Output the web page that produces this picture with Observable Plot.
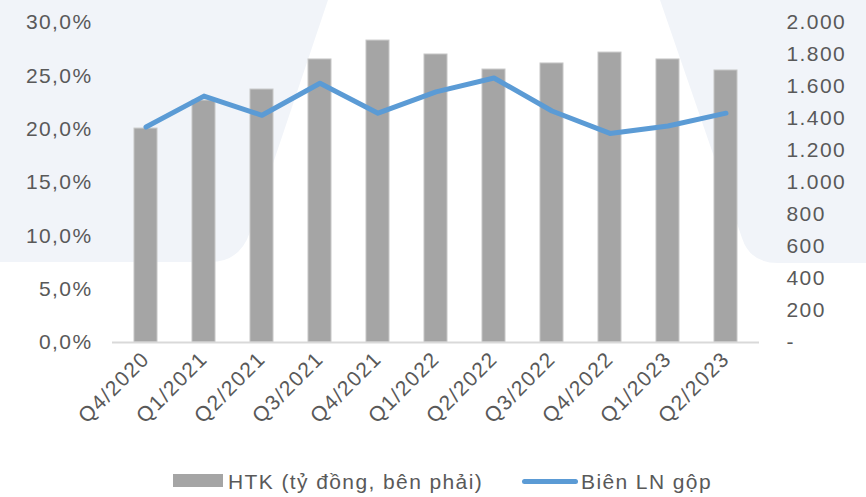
<!DOCTYPE html>
<html>
<head>
<meta charset="utf-8">
<script src="https://cdn.jsdelivr.net/npm/d3@7"></script>
<script src="https://cdn.jsdelivr.net/npm/@observablehq/plot@0.6"></script>
<style>
  html, body { margin: 0; padding: 0; background: #ffffff; }
  #wrap { position: relative; width: 866px; height: 497px; overflow: hidden; font-family: "Liberation Sans", Arial, sans-serif; }
  #bg { position: absolute; left: 0; top: 0; z-index: 0; }
  #chart { position: relative; z-index: 1; }
  #chart svg { display: block; }
  #chart svg text { letter-spacing: 1.4px; }
  #legend { position: relative; z-index: 1; width: 866px; height: 42px; color: #595959; font-size: 21px; letter-spacing: 1.4px; }
  #legend .sw { position: absolute; }
  #legend .lb { position: absolute; top: 26px; transform: translateY(-50%); white-space: nowrap; line-height: 1; }
</style>
</head>
<body>
<div id="wrap">
  <svg id="bg" width="866" height="497" viewBox="0 0 866 497">
    <path d="M0,0 H328 L250,232 Q240,262 210,262 H0 Z" fill="#f1f4f9"/>
    <path d="M660,0 H866 V263 H778 Q750,263 742,238 Z" fill="#f1f4f9"/>
  </svg>
  <div id="chart"></div>
  <div id="legend">
    <div class="sw" style="left:173px; top:19px; width:50px; height:13px; background:#a5a5a5;"></div>
    <div class="lb" style="left:228px;">HTK (tỷ đồng, bên phải)</div>
    <div class="sw" style="left:522px; top:24px; width:56px; height:5px; border-radius:3px; background:#5b9bd5;"></div>
    <div class="lb" style="left:581px;">Biên LN gộp</div>
  </div>
</div>
<script>
const quarters = ["Q4/2020", "Q1/2021", "Q2/2021", "Q3/2021", "Q4/2021", "Q1/2022", "Q2/2022", "Q3/2022", "Q4/2022", "Q1/2023", "Q2/2023"];
const htk = [1337, 1512, 1581, 1769, 1887, 1800, 1706, 1744, 1812, 1769, 1700];
const grossMargin = [20.2, 23.1, 21.3, 24.3, 21.5, 23.5, 24.8, 21.7, 19.6, 20.3, 21.5];
const leftTicks = [0, 5, 10, 15, 20, 25, 30];
const rightTicks = [0, 200, 400, 600, 800, 1000, 1200, 1400, 1600, 1800, 2000];

const leftMax = 30, rightMax = 2000;
const toLeft = v => v * leftMax / rightMax;

const data = quarters.map((q, i) => ({q, htk: htk[i], m: grossMargin[i]}));
const fmtLeft = d => d.toFixed(1).replace(".", ",") + "%";
const fmtRight = d => d === 0 ? "-" : d3.format(",")(d).replace(/,/g, ".");

const chart = Plot.plot({
  width: 866,
  height: 455,
  marginLeft: 112,
  marginRight: 107,
  marginTop: 22,
  marginBottom: 113,
  style: {background: "transparent", fontFamily: "'Liberation Sans', Arial, sans-serif", fontSize: "21px", color: "#595959", overflow: "visible"},
  x: {domain: quarters, paddingInner: 0.6, paddingOuter: 0.3, label: null},
  y: {domain: [0, leftMax], label: null},
  marks: [
    Plot.barY(data, {x: "q", y: d => toLeft(d.htk), fill: "#a5a5a5", stroke: "#c6c6c6", strokeWidth: 1}),
    Plot.ruleY([0], {stroke: "#d9d9d9", strokeWidth: 2}),
    Plot.line(data, {x: "q", y: "m", stroke: "#5b9bd5", strokeWidth: 5, strokeLinecap: "round", strokeLinejoin: "round"}),
    Plot.axisY(leftTicks, {tickSize: 0, tickPadding: 20, tickFormat: fmtLeft, fill: "#595959", fontSize: 21, label: null}),
    Plot.text(rightTicks, {y: d => toLeft(d), text: fmtRight, frameAnchor: "right", textAnchor: "start", dx: 27, fill: "#595959", fontSize: 21}),
    Plot.axisX({tickRotate: -45, tickSize: 0, tickPadding: 13, fill: "#595959", fontSize: 21, label: null})
  ]
});
document.getElementById("chart").appendChild(chart);
</script>
</body>
</html>
